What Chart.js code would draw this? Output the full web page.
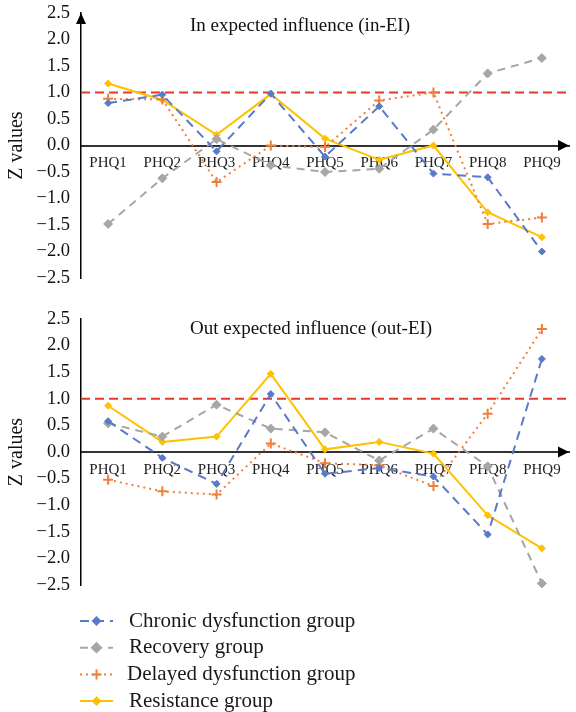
<!DOCTYPE html>
<html>
<head>
<meta charset="utf-8">
<script src="https://cdn.jsdelivr.net/npm/chart.js@4"></script>
<style>
    html, body { margin: 0; padding: 0; background: #fff; }
    .panel { position: absolute; left: 0; width: 576px; }
    #topPanel { top: 0; height: 290px; }
    #bottomPanel { top: 290px; height: 422px; }
</style>
</head>
<body>
<div class="panel" id="topPanel"><canvas id="inChart"></canvas></div>
<div class="panel" id="bottomPanel"><canvas id="outChart"></canvas></div>
<script>
const items = ['PHQ1', 'PHQ2', 'PHQ3', 'PHQ4', 'PHQ5', 'PHQ6', 'PHQ7', 'PHQ8', 'PHQ9']
const groupNames = ['Chronic dysfunction group', 'Recovery group', 'Delayed dysfunction group', 'Resistance group']

// in expected influence (z values)
const inChronic    = [0.80, 0.96, -0.11, 0.98, -0.21, 0.74, -0.53, -0.60, -2.00]
const inRecovery   = [-1.48, -0.62, 0.12, -0.37, -0.50, -0.44, 0.30, 1.36, 1.65]
const inDelayed    = [0.88, 0.87, -0.69, 0.00, -0.03, 0.85, 1.00, -1.48, -1.36]
const inResistance = [1.17, 0.86, 0.20, 0.97, 0.13, -0.27, 0.00, -1.26, -1.73]

// out expected influence (z values)
const outChronic    = [0.58, -0.11, -0.60, 1.09, -0.41, -0.30, -0.46, -1.55, 1.75]
const outRecovery   = [0.54, 0.29, 0.89, 0.44, 0.37, -0.16, 0.44, -0.27, -2.47]
const outDelayed    = [-0.52, -0.74, -0.80, 0.16, -0.21, -0.25, -0.64, 0.72, 2.31]
const outResistance = [0.87, 0.19, 0.29, 1.47, 0.05, 0.19, -0.03, -1.19, -1.81]

const cutoff = 1.0

const SERIF = '"Liberation Serif", "DejaVu Serif", serif'

const styles = [
    { color: '#5a7ac8', dash: [9, 6], point: 'rectRot', radius: 3.5 },
    { color: '#a6a6a6', dash: [8, 6], point: 'rectRot', radius: 4.5 },
    { color: '#f07f3c', dash: [2, 4], point: 'cross', radius: 5 },
    { color: '#ffc000', dash: [], point: 'rectRot', radius: 3.5 }
]

function makeDatasets(series) {
    return series.map((data, i) => ({
        label: groupNames[i],
        data,
        borderColor: styles[i].color,
        backgroundColor: styles[i].color,
        borderDash: styles[i].dash,
        borderWidth: 2,
        tension: 0,
        pointStyle: styles[i].point,
        pointRadius: styles[i].radius,
        pointBorderWidth: styles[i].point === 'cross' ? 2 : 1,
        pointBackgroundColor: styles[i].color,
        pointBorderColor: styles[i].color,
        clip: false
    }))
}

function arrow(ctx, x, y, dir) {
    ctx.save()
    ctx.fillStyle = '#000'
    ctx.beginPath()
    if (dir === 'right') {
        ctx.moveTo(x, y)
        ctx.lineTo(x - 11, y - 5.5)
        ctx.lineTo(x - 11, y + 5.5)
    } else {
        ctx.moveTo(x, y)
        ctx.lineTo(x - 5, y + 11)
        ctx.lineTo(x + 5, y + 11)
    }
    ctx.closePath()
    ctx.fill()
    ctx.restore()
}

const decor = {
    id: 'decor',
    beforeDatasetsDraw(chart, args, opts) {
        const { ctx, chartArea, scales } = chart
        const y = scales.y.getPixelForValue(cutoff)
        ctx.save()
        ctx.strokeStyle = '#e8392c'
        ctx.lineWidth = 2
        ctx.setLineDash([9, 5])
        ctx.beginPath()
        ctx.moveTo(chartArea.left, y)
        ctx.lineTo(chartArea.right, y)
        ctx.stroke()
        ctx.restore()
    },
    afterDraw(chart, args, opts) {
        const { ctx, chartArea, scales } = chart
        const zeroY = scales.y.getPixelForValue(0)
        arrow(ctx, chartArea.right, zeroY, 'right')
        if (opts.upArrow) arrow(ctx, chartArea.left, chartArea.top, 'up')

        ctx.save()
        ctx.fillStyle = '#111'
        ctx.font = '19px ' + SERIF
        ctx.textAlign = 'left'
        ctx.textBaseline = 'middle'
        ctx.fillText(opts.title, chartArea.left + 109, scales.y.getPixelForValue(opts.titleAt))
        ctx.restore()

        if (!opts.legend) return
        ctx.save()
        chart.data.datasets.forEach((ds, i) => {
            const rowY = chartArea.bottom + 36 + i * 26.7
            ctx.strokeStyle = ds.borderColor
            ctx.fillStyle = ds.borderColor
            ctx.lineWidth = 2
            ctx.setLineDash(ds.borderDash)
            ctx.beginPath()
            ctx.moveTo(80, rowY)
            ctx.lineTo(113, rowY)
            ctx.stroke()
            ctx.setLineDash([])
            Chart.helpers.drawPoint(ctx, {
                pointStyle: ds.pointStyle,
                radius: ds.pointRadius,
                borderWidth: ds.pointBorderWidth,
                rotation: 0
            }, 96.5, rowY)
            ctx.fillStyle = '#1a1a1a'
            ctx.font = '21px ' + SERIF
            ctx.textAlign = 'left'
            ctx.textBaseline = 'middle'
            ctx.fillText(ds.label, i === 2 ? 127 : 129, rowY)
        })
        ctx.restore()
    }
}

function zChart(canvas, series, pad, decorOpts) {
    return new Chart(canvas.getContext('2d'), {
        type: 'line',
        data: { labels: items, datasets: makeDatasets(series) },
        plugins: [decor],
        options: {
            responsive: true,
            maintainAspectRatio: false,
            animation: false,
            layout: { padding: pad },
            plugins: {
                legend: { display: false },
                tooltip: { enabled: false },
                decor: decorOpts
            },
            scales: {
                x: {
                    position: { y: 0 },
                    offset: true,
                    grid: { display: false, drawTicks: false },
                    border: { display: true, color: '#333', width: 2 },
                    ticks: { color: '#222', padding: 9, font: { family: SERIF, size: 15 } }
                },
                y: {
                    min: -2.5,
                    max: 2.5,
                    afterFit(scale) {
                        scale.width = 81
                        scale.paddingTop = 0
                        scale.paddingBottom = 0
                    },
                    grid: { display: false, drawTicks: false },
                    border: { display: true, color: '#000', width: 1.5 },
                    ticks: {
                        stepSize: 0.5,
                        padding: 11,
                        color: '#111',
                        font: { family: SERIF, size: 18.5 },
                        callback: v => (v < 0 ? '\u2212' : '') + Math.abs(v).toFixed(1)
                    },
                    title: {
                        display: true,
                        text: 'Z values',
                        color: '#111',
                        padding: { top: 5, bottom: 0 },
                        font: { family: SERIF, size: 20 }
                    }
                }
            }
        }
    })
}

zChart(document.getElementById('inChart'),
    [inChronic, inRecovery, inDelayed, inResistance],
    { top: 13, bottom: 12, left: 0, right: 0 },
    { title: 'In expected influence (in-EI)', titleAt: 2.25, upArrow: true, legend: false })

zChart(document.getElementById('outChart'),
    [outChronic, outRecovery, outDelayed, outResistance],
    { top: 29, bottom: 127, left: 0, right: 0 },
    { title: 'Out expected influence (out-EI)', titleAt: 2.31, upArrow: false, legend: true })
</script>
</body>
</html>
